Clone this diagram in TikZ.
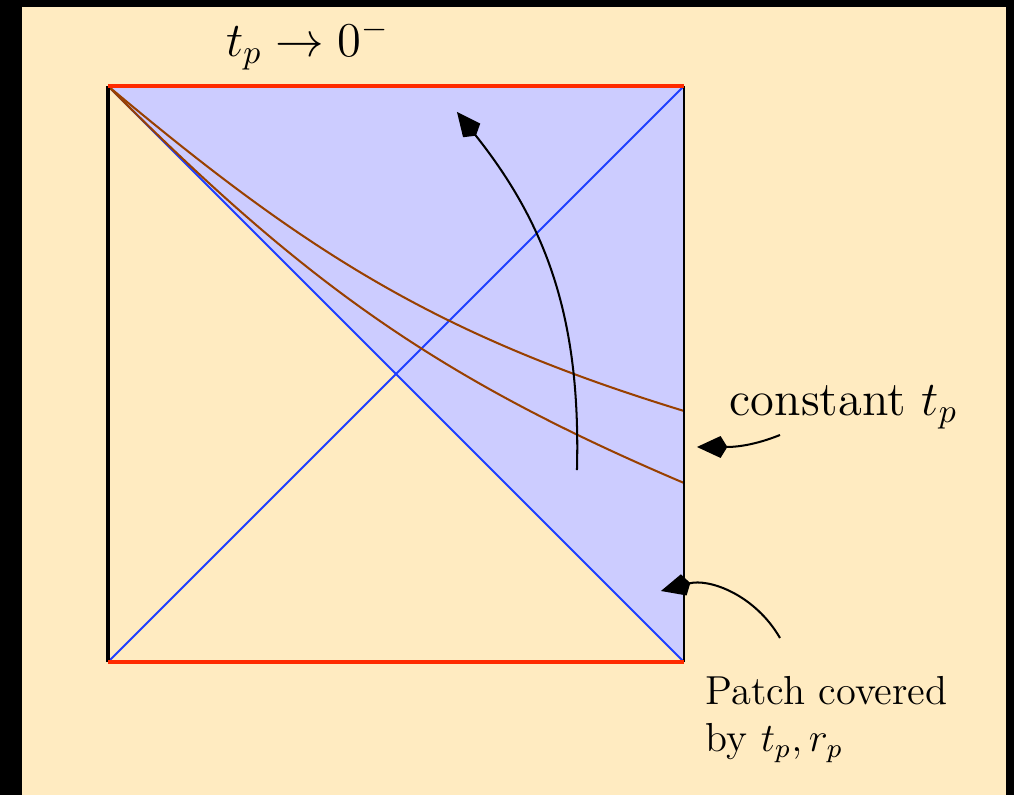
\documentclass[tikz,border=0pt]{standalone}
\usetikzlibrary{arrows.meta}
\definecolor{bg}{HTML}{FFEBC1}
\definecolor{patchclr}{HTML}{CCCCFF}
\definecolor{edgeclr}{HTML}{FF2A00}
\definecolor{nullclr}{HTML}{1F3FFF}
\definecolor{sliceclr}{HTML}{994000}
\tikzset{horizon/.style={nullclr,semithick},slice/.style={sliceclr,semithick},bound/.style={edgeclr,very thick},pointer/.style={-{Kite[length=9pt,width=6.5pt,inset=2pt]},semithick},lab/.style={font=\Large,inner sep=0pt}}

\begin{document}
\begin{tikzpicture}
\fill[black] (-1.125,-1.385) rectangle (9.4375,6.896);
\fill[bg] (-0.896,-1.385) rectangle (9.354,6.823);
\coordinate (bl) at (0,0); \coordinate (br) at (6,0); \coordinate (tr) at (6,6); \coordinate (tl) at (0,6);
\coordinate (s1) at (6,2.615); \coordinate (s2) at (6,1.865);
\fill[patchclr] (tl)--(tr)--(br)--cycle;
\draw[horizon] (bl)--(tr); \draw[horizon] (tl)--(br);
\draw[slice] (tl) to[out=-40,in=163] (s1);
\draw[slice] (tl) to[out=-45,in=157] (s2);
\draw[very thick] (bl)--(tl); \draw[thick] (br)--(tr);
\draw[bound] (tl)--(tr); \draw[bound] (bl)--(br);
\node[lab] (lim) at (2.08,6.43) {$t_p\to0^-$};
\node[lab,anchor=base west] (const) at (6.47,2.573) {constant $t_p$};
\node[lab,font=\large,anchor=north west,align=left] (patch) at (6.22,-0.14) {Patch covered\\by $t_p,r_p$};
\coordinate (flowS) at (4.885,2.0); \coordinate (flowE) at (3.635,5.73);
\coordinate (constS) at (7.0,2.365); \coordinate (constE) at (6.135,2.24);
\coordinate (patchS) at (7.0,0.25); \coordinate (patchE) at (5.76,0.74);
\draw[pointer] (flowS) to[bend right=20] (flowE);
\draw[pointer] (constS) to[out=-158,in=0] (constE);
\draw[pointer] (patchS) to[out=120,in=15] (patchE);
\end{tikzpicture}
\end{document}
